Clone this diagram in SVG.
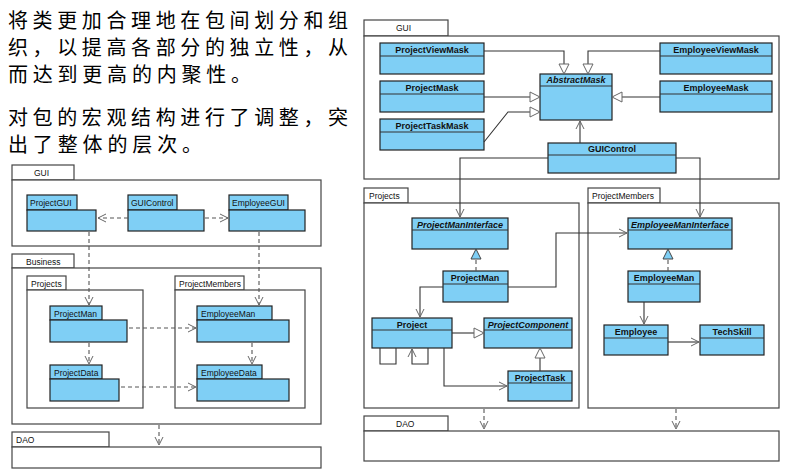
<svg xmlns="http://www.w3.org/2000/svg" width="793" height="472" viewBox="0 0 793 472">
<style>
.t{font-family:"Noto Sans CJK SC",sans-serif;font-size:20px;fill:#000}
.pk{fill:#fff;stroke:#444;stroke-width:1.2}
.c{fill:#7fcff5;stroke:#222;stroke-width:1.2}
.l{font-family:"Liberation Sans",Arial,sans-serif;font-size:8.5px;fill:#111}
.b{font-family:"Liberation Sans",Arial,sans-serif;font-size:9px;font-weight:bold;fill:#111;text-anchor:middle}
.i{font-style:italic}
.s{fill:none;stroke:#333;stroke-width:1.1}
.d{fill:none;stroke:#555;stroke-width:1.1;stroke-dasharray:4,3}
</style>
<defs>
<marker id="oa" markerWidth="10" markerHeight="10" refX="9" refY="5" orient="auto" markerUnits="userSpaceOnUse"><path d="M1,1 L9,5 L1,9" fill="none" stroke="#666" stroke-width="1"/></marker>
<marker id="tr" markerWidth="12" markerHeight="12" refX="11" refY="6" orient="auto" markerUnits="userSpaceOnUse"><path d="M1,1 L11,6 L1,11 Z" fill="#fff" stroke="#666" stroke-width="1"/></marker>
<marker id="tf" markerWidth="12" markerHeight="12" refX="11" refY="6" orient="auto" markerUnits="userSpaceOnUse"><path d="M1,1 L11,6 L1,11 Z" fill="#7fcff5" stroke="#444" stroke-width="1"/></marker>
</defs>
<rect width="793" height="472" fill="#fff"/>
<g id="text">
<text class="t" x="8" y="28" textLength="340" lengthAdjust="spacing">将类更加合理地在包间划分和组</text>
<text class="t" x="8" y="55" textLength="340" lengthAdjust="spacing">织，以提高各部分的独立性，从</text>
<text class="t" x="8" y="82" textLength="243" lengthAdjust="spacing">而达到更高的内聚性。</text>
<text class="t" x="8" y="125" textLength="340" lengthAdjust="spacing">对包的宏观结构进行了调整，突</text>
<text class="t" x="8" y="152" textLength="194" lengthAdjust="spacing">出了整体的层次。</text>
</g>
<g id="L-GUI"><rect class="pk" x="12" y="165" width="62" height="15"/><rect class="pk" x="12" y="180" width="309" height="66"/><text class="l" x="34" y="176">GUI</text></g>
<g id="L-Business"><rect class="pk" x="12" y="254" width="62" height="14"/><rect class="pk" x="12" y="268" width="309" height="156"/><text class="l" x="26" y="265">Business</text></g>
<g id="L-Projects"><rect class="pk" x="27" y="276" width="39" height="14"/><rect class="pk" x="27" y="290" width="116" height="118"/><text class="l" x="31" y="287">Projects</text></g>
<g id="L-ProjectMembers"><rect class="pk" x="175" y="276" width="69" height="14"/><rect class="pk" x="175" y="290" width="130" height="118"/><text class="l" x="179" y="287">ProjectMembers</text></g>
<g id="L-DAO"><rect class="pk" x="12" y="432" width="97" height="15"/><rect class="pk" x="12" y="447" width="309" height="21"/><text class="l" x="16" y="443">DAO</text></g>
<g id="L-ProjectGUI"><rect class="c" x="27" y="195" width="50" height="15"/><rect class="c" x="27" y="210" width="69" height="21"/><text class="l" x="30" y="206">ProjectGUI</text></g>
<g id="L-GUIControl"><rect class="c" x="128" y="195" width="49" height="15"/><rect class="c" x="128" y="210" width="76" height="21"/><text class="l" x="131" y="206">GUIControl</text></g>
<g id="L-EmployeeGUI"><rect class="c" x="229" y="195" width="59" height="15"/><rect class="c" x="229" y="210" width="76" height="21"/><text class="l" x="232" y="206">EmployeeGUI</text></g>
<g id="L-ProjectMan"><rect class="c" x="50" y="306" width="52" height="14"/><rect class="c" x="50" y="320" width="77" height="22"/><text class="l" x="54" y="317">ProjectMan</text></g>
<g id="L-ProjectData"><rect class="c" x="50" y="365" width="52" height="14"/><rect class="c" x="50" y="379" width="69" height="22"/><text class="l" x="54" y="376">ProjectData</text></g>
<g id="L-EmployeeMan"><rect class="c" x="197" y="306" width="75" height="14"/><rect class="c" x="197" y="320" width="92" height="22"/><text class="l" x="201" y="317">EmployeeMan</text></g>
<g id="L-EmployeeData"><rect class="c" x="197" y="365" width="65" height="14"/><rect class="c" x="197" y="379" width="92" height="22"/><text class="l" x="201" y="376">EmployeeData</text></g>
<g id="L-connectors">
<path class="d" d="M128,218 H98" marker-end="url(#oa)"/>
<path class="d" d="M205,218 H228" marker-end="url(#oa)"/>
<path class="d" d="M89,232 V305" marker-end="url(#oa)"/>
<path class="d" d="M259,232 V305" marker-end="url(#oa)"/>
<path class="d" d="M129,328 H196" marker-end="url(#oa)"/>
<path class="d" d="M121,387 H196" marker-end="url(#oa)"/>
<path class="d" d="M89,343 V364" marker-end="url(#oa)"/>
<path class="d" d="M252,343 V364" marker-end="url(#oa)"/>
<path class="d" d="M159,425 V445" marker-end="url(#oa)"/>
</g>
<g id="R-GUI"><rect class="pk" x="364" y="20" width="84" height="16"/><rect class="pk" x="364" y="36" width="415" height="143"/><text class="l" x="396" y="31">GUI</text></g>
<g id="R-Projects"><rect class="pk" x="364" y="188" width="44" height="15"/><rect class="pk" x="364" y="203" width="215" height="205"/><text class="l" x="369" y="199">Projects</text></g>
<g id="R-ProjectMembers"><rect class="pk" x="588" y="188" width="72" height="15"/><rect class="pk" x="588" y="203" width="191" height="205"/><text class="l" x="592" y="199">ProjectMembers</text></g>
<g id="R-DAO"><rect class="pk" x="364" y="416" width="84" height="15"/><rect class="pk" x="364" y="431" width="415" height="30"/><text class="l" x="396" y="427">DAO</text></g>
<g id="ProjectViewMask"><rect class="c" x="380" y="43" width="104" height="31"/><line class="s" x1="380" y1="56" x2="484" y2="56"/><text class="b" x="432" y="53">ProjectViewMask</text></g>
<g id="ProjectMask"><rect class="c" x="380" y="81" width="104" height="31"/><line class="s" x1="380" y1="94" x2="484" y2="94"/><text class="b" x="432" y="91">ProjectMask</text></g>
<g id="ProjectTaskMask"><rect class="c" x="380" y="119" width="104" height="31"/><line class="s" x1="380" y1="132" x2="484" y2="132"/><text class="b" x="432" y="129">ProjectTaskMask</text></g>
<g id="AbstractMask"><rect class="c" x="540" y="74" width="72" height="46"/><line class="s" x1="540" y1="86" x2="612" y2="86"/><text class="b i" x="576" y="83">AbstractMask</text></g>
<g id="EmployeeViewMask"><rect class="c" x="660" y="43" width="112" height="31"/><line class="s" x1="660" y1="56" x2="772" y2="56"/><text class="b" x="716" y="53">EmployeeViewMask</text></g>
<g id="EmployeeMask"><rect class="c" x="660" y="81" width="112" height="31"/><line class="s" x1="660" y1="94" x2="772" y2="94"/><text class="b" x="716" y="91">EmployeeMask</text></g>
<g id="GUIControl"><rect class="c" x="548" y="143" width="128" height="30"/><line class="s" x1="548" y1="155" x2="676" y2="155"/><text class="b" x="612" y="152">GUIControl</text></g>
<g id="ProjectManInterface"><rect class="c" x="412" y="218" width="96" height="31"/><line class="s" x1="412" y1="230" x2="508" y2="230"/><text class="b i" x="460" y="228">ProjectManInterface</text></g>
<g id="ProjectMan"><rect class="c" x="443" y="271" width="65" height="31"/><line class="s" x1="443" y1="284" x2="508" y2="284"/><text class="b" x="475" y="281">ProjectMan</text></g>
<g id="Project"><rect class="c" x="372" y="318" width="80" height="30"/><line class="s" x1="372" y1="330" x2="452" y2="330"/><text class="b" x="412" y="328">Project</text></g>
<g id="ProjectComponent"><rect class="c" x="484" y="318" width="88" height="30"/><line class="s" x1="484" y1="330" x2="572" y2="330"/><text class="b i" x="528" y="328">ProjectComponent</text></g>
<g id="ProjectTask"><rect class="c" x="508" y="371" width="64" height="30"/><line class="s" x1="508" y1="383" x2="572" y2="383"/><text class="b" x="540" y="381">ProjectTask</text></g>
<g id="EmployeeManInterface"><rect class="c" x="628" y="218" width="104" height="31"/><line class="s" x1="628" y1="230" x2="732" y2="230"/><text class="b i" x="680" y="228">EmployeeManInterface</text></g>
<g id="EmployeeMan"><rect class="c" x="628" y="271" width="72" height="31"/><line class="s" x1="628" y1="284" x2="700" y2="284"/><text class="b" x="664" y="281">EmployeeMan</text></g>
<g id="Employee"><rect class="c" x="604" y="325" width="64" height="30"/><line class="s" x1="604" y1="338" x2="668" y2="338"/><text class="b" x="636" y="335">Employee</text></g>
<g id="TechSkill"><rect class="c" x="700" y="325" width="64" height="30"/><line class="s" x1="700" y1="338" x2="764" y2="338"/><text class="b" x="732" y="335">TechSkill</text></g>
<g id="R-connectors">
<path class="s" d="M484,51 H564 V74" marker-end="url(#tr)"/>
<path class="s" d="M660,51 H588 V74" marker-end="url(#tr)"/>
<path class="s" d="M484,97 H540" marker-end="url(#tr)"/>
<path class="s" d="M484,142 L508,112 H540" marker-end="url(#tr)"/>
<path class="s" d="M660,97 H612" marker-end="url(#tr)"/>
<path class="s" d="M580,143 V121" marker-end="url(#oa)"/>
<path class="s" d="M548,158 H460 V217" marker-end="url(#oa)"/>
<path class="s" d="M676,158 H700 V217" marker-end="url(#oa)"/>
<path class="d" d="M476,271 V249" marker-end="url(#tf)"/>
<path class="d" d="M668,271 V249" marker-end="url(#tf)"/>
<path class="s" d="M443,287 H420 V317" marker-end="url(#oa)"/>
<path class="s" d="M508,287 H556 V233 H627" marker-end="url(#oa)"/>
<path class="s" d="M452,333 H484" marker-end="url(#tr)"/>
<path class="s" d="M540,371 V348" marker-end="url(#tr)"/>
<path class="s" d="M444,348 V386 H507" marker-end="url(#oa)"/>
<path class="s" d="M380,348 V364 H396 V348"/>
<path class="s" d="M428,348 V364 H412 V349" marker-end="url(#oa)"/>
<path class="s" d="M644,302 V324" marker-end="url(#oa)"/>
<path class="s" d="M668,342 H699" marker-end="url(#oa)"/>
<path class="d" d="M484,409 V429" marker-end="url(#oa)"/>
<path class="d" d="M676,409 V429" marker-end="url(#oa)"/>
</g>
</svg>
